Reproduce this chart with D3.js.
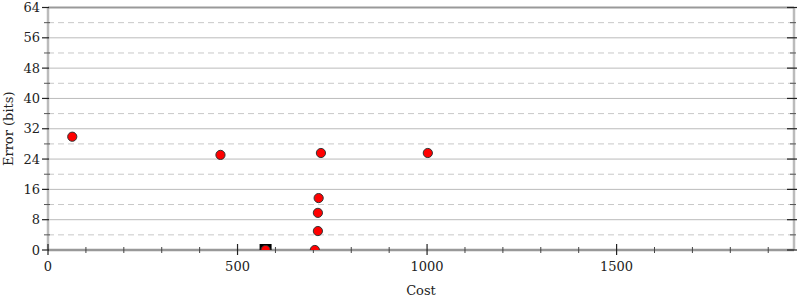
<!DOCTYPE html>
<html>
<head>
<meta charset="utf-8">
<script src="https://cdn.jsdelivr.net/npm/d3@7"></script>
<style>
  body { margin: 0; background: #fff; }
  text { font-family: "DejaVu Serif", serif; font-size: 13px; fill: #222; }
</style>
</head>
<body>
<div id="canvas"></div>
<script>
// points: cost, error in bits
const cost = [64, 455, 720, 1002, 714, 712, 712, 704];
const errorBits = [29.9, 25.1, 25.6, 25.6, 13.7, 9.8, 5.0, 0];
// the highlighted point (black square)
const bestCost = [574];
const bestError = [0];

const xTicks = [0, 500, 1000, 1500];
const yTicks = [0, 8, 16, 24, 32, 40, 48, 56, 64];

let width = 800;
let height = 300;
let margin = { top: 7.5, right: 6, bottom: 50, left: 48 };
let w = width - margin.left - margin.right;
let h = height - margin.top - margin.bottom;

let svg = d3.select("#canvas")
	.append("svg")
	.attr("width", width)
	.attr("height", height);

let g = svg.append("g")
	.attr("transform", "translate(" + margin.left + "," + margin.top + ")");

let x = d3.scaleLinear().domain([0, 1968]).range([0, w]);
let y = d3.scaleLinear().domain([0, 64]).range([h, 0]);

// grid: solid on major ticks, dashed halfway between
g.append("g")
	.selectAll("line")
	.data(d3.range(8, 64, 8))
	.enter()
	.append("line")
	.attr("x1", 0).attr("x2", w)
	.attr("y1", (d) => y(d)).attr("y2", (d) => y(d))
	.attr("stroke", "#bbb").attr("stroke-width", 1);

g.append("g")
	.selectAll("line")
	.data(d3.range(4, 64, 8))
	.enter()
	.append("line")
	.attr("x1", 0).attr("x2", w)
	.attr("y1", (d) => y(d)).attr("y2", (d) => y(d))
	.attr("stroke", "#c8c8c8").attr("stroke-width", 1)
	.attr("stroke-dasharray", "6,4");

// frame
g.append("line").attr("x1", 0).attr("x2", 0).attr("y1", 0).attr("y2", h)
	.attr("stroke", "#bbb").attr("stroke-width", 2.5);
g.append("line").attr("x1", w).attr("x2", w).attr("y1", 0).attr("y2", h)
	.attr("stroke", "#bbb").attr("stroke-width", 2.5);
g.append("line").attr("x1", 0).attr("x2", w).attr("y1", 0).attr("y2", 0)
	.attr("stroke", "#999").attr("stroke-width", 2);
g.append("line").attr("x1", 0).attr("x2", w).attr("y1", h).attr("y2", h)
	.attr("stroke", "#999").attr("stroke-width", 2.5);

// y ticks, both sides
[0, w].forEach((side) => {
	g.append("g")
		.selectAll("line")
		.data(yTicks)
		.enter()
		.append("line")
		.attr("x1", side === 0 ? -6 : side - 7).attr("x2", side === 0 ? 1 : side + 3)
		.attr("y1", (d) => y(d)).attr("y2", (d) => y(d))
		.attr("stroke", "#222").attr("stroke-width", 1.2);
	g.append("g")
		.selectAll("line")
		.data(d3.range(4, 64, 8))
		.enter()
		.append("line")
		.attr("x1", side === 0 ? -4 : side - 4).attr("x2", side === 0 ? 2 : side + 2)
		.attr("y1", (d) => y(d)).attr("y2", (d) => y(d))
		.attr("stroke", "#555").attr("stroke-width", 1);
});

g.append("g")
	.selectAll("text")
	.data(yTicks)
	.enter()
	.append("text")
	.attr("x", -8)
	.attr("y", (d) => y(d))
	.attr("dy", "0.35em")
	.attr("text-anchor", "end")
	.text((d) => d);

// x ticks
g.append("g")
	.selectAll("line")
	.data(xTicks)
	.enter()
	.append("line")
	.attr("x1", (d) => x(d)).attr("x2", (d) => x(d))
	.attr("y1", h - 6).attr("y2", h + 5)
	.attr("stroke", "#222").attr("stroke-width", 1.2);

g.append("g")
	.selectAll("line")
	.data(d3.range(100, 2000, 100).filter((d) => d % 500 !== 0))
	.enter()
	.append("line")
	.attr("x1", (d) => x(d)).attr("x2", (d) => x(d))
	.attr("y1", h - 3).attr("y2", h + 3)
	.attr("stroke", "#444").attr("stroke-width", 1);

g.append("g")
	.selectAll("text")
	.data(xTicks)
	.enter()
	.append("text")
	.attr("x", (d) => x(d))
	.attr("y", h + 21)
	.attr("text-anchor", "middle")
	.text((d) => d);

// axis titles
svg.append("text")
	.attr("x", margin.left + w / 2)
	.attr("y", 295)
	.attr("text-anchor", "middle")
	.text("Cost");

svg.append("text")
	.attr("transform", "translate(13," + (margin.top + h / 2) + ") rotate(-90)")
	.attr("text-anchor", "middle")
	.text("Error (bits)");

// points, clipped to the plot area
svg.append("clipPath").attr("id", "plotclip")
	.append("rect").attr("width", w).attr("height", h);

let marks = g.append("g").attr("clip-path", "url(#plotclip)");

marks.selectAll("rect")
	.data(bestCost.map((c, i) => ({ c: c, e: bestError[i] })))
	.enter()
	.append("rect")
	.attr("x", (d) => x(d.c) - 6)
	.attr("y", (d) => y(d.e) - 6)
	.attr("width", 12).attr("height", 12)
	.attr("fill", "#000");

let pts = cost.map((c, i) => ({ c: c, e: errorBits[i] }))
	.concat(bestCost.map((c, i) => ({ c: c, e: bestError[i] })));

marks.selectAll("circle")
	.data(pts)
	.enter()
	.append("circle")
	.attr("cx", (d) => x(d.c))
	.attr("cy", (d) => y(d.e))
	.attr("r", 4.6)
	.attr("fill", "#f00")
	.attr("stroke", "#333")
	.attr("stroke-width", 1);
</script>
</body>
</html>
